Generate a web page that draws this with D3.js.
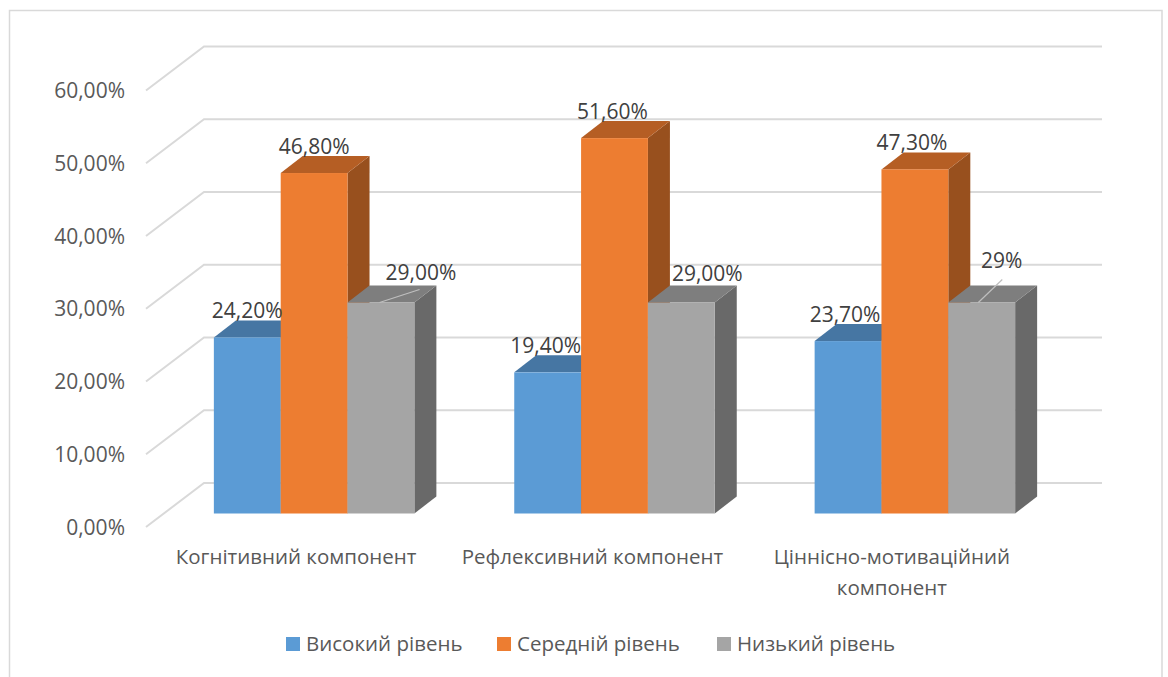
<!DOCTYPE html>
<html><head><meta charset="utf-8">
<script src="https://cdn.jsdelivr.net/npm/d3@7/dist/d3.min.js"></script>
<style>html,body{margin:0;padding:0;background:#fff}svg{display:block}text{font-family:"Open Sans",sans-serif}</style>
</head><body><svg id="c" width="1168" height="677"></svg>
<script>
const categories=[["Когнітивний компонент"],["Рефлексивний компонент"],["Ціннісно-мотиваційний","компонент"]];
const seriesNames=["Високий рівень","Середній рівень","Низький рівень"];
const high=[24.2,19.4,23.7];
const mid=[46.8,51.6,47.3];
const low=[29,29,29];
const highLabels=["24,20%","19,40%","23,70%"];
const midLabels=["46,80%","51,60%","47,30%"];
const lowLabels=["29,00%","29,00%","29%"];
const ticks=[0,10,20,30,40,50,60];
const tickLabels=["0,00%","10,00%","20,00%","30,00%","40,00%","50,00%","60,00%"];

const front=["#5B9BD5","#ED7D31","#A5A5A5"],top_=["#4676A3","#B55E24","#7E7E7E"],side=["#3E6A92","#98501E","#696969"];
const svg=d3.select("#c");
const DX=22,DY=17;            // depth of a bar
const WX=58,WY=44;            // depth of the floor
const y=d3.scaleLinear().domain([0,60]).range([527,90.5]);
const x0=d3.scaleBand().domain([0,1,2]).range([164,1065]).paddingInner(0.3325).paddingOuter(0.166);
const xs=d3.scaleBand().domain([0,1,2]).range([0,x0.bandwidth()]);
const barH=v=>y(0)-y(v), base=513.5;
const series=[high,mid,low];

svg.append("path").attr("d","M9.5,677V10.5H1162V677").attr("fill","none").attr("stroke","#D9D9D9").attr("stroke-width",1.5);

const grid=svg.append("g").attr("fill","none").attr("stroke","#D9D9D9").attr("stroke-width",2);
ticks.forEach(t=>{
  grid.append("path").attr("d",d3.line()([[146,y(t)],[146+WX,y(t)-WY],[1102,y(t)-WY]]));
});
svg.append("g").selectAll("text").data(ticks).join("text")
  .attr("x",125).attr("y",d=>y(d)+7.5).attr("text-anchor","end").attr("font-size",21).attr("fill","#595959")
  .text((d,i)=>tickLabels[i]);

const bars=svg.append("g");
[0,1,2].forEach(c=>{
  [0,1,2].forEach(s=>{
    const v=series[s][c],l=x0(c)+xs(s),r=l+xs.bandwidth(),t=base-barH(v);
    bars.append("path").attr("fill",side[s]).attr("d",d3.line()([[r,base],[r+DX,base-DY],[r+DX,t-DY],[r,t]]));
    bars.append("path").attr("fill",top_[s]).attr("d",d3.line()([[l,t],[l+DX,t-DY],[r+DX,t-DY],[r,t]]));
    bars.append("rect").attr("fill",front[s]).attr("x",l).attr("y",t).attr("width",r-l).attr("height",barH(v));
  });
});
// leader lines
[[0,32,-13,40],[2,30,-23,24]].forEach(([c,dx,dy,w])=>{
  const l=x0(c)+xs(2),t=base-barH(low[c]);
  svg.append("line").attr("x1",l+dx).attr("y1",t).attr("x2",l+dx+w).attr("y2",t+dy)
    .attr("stroke","#BFBFBF").attr("stroke-width",1.2);
});
const lab=svg.append("g").attr("font-size",21).attr("fill","#404040").attr("text-anchor","middle");
const lowShift=[[40,23],[26,22],[20,35]];
const colShift=[0,-2,-3];
[0,1,2].forEach(c=>{
  const w=xs.bandwidth()/2, cxH=x0(c)+xs(0)+w, cxM=x0(c)+xs(1)+w, cxL=x0(c)+xs(2)+w;
  lab.append("text").attr("x",cxH+colShift[c]).attr("y",base-barH(high[c])-19).text(highLabels[c]);
  lab.append("text").attr("x",cxM+colShift[c]).attr("y",base-barH(mid[c])-19).text(midLabels[c]);
  lab.append("text").attr("x",cxL+lowShift[c][0]).attr("y",base-barH(low[c])-lowShift[c][1]).text(lowLabels[c]);
});
const cat=svg.append("g").attr("font-size",20.5).attr("fill","#595959").attr("text-anchor","middle");
const catShift=[-18,-22,-23];
categories.forEach((lines,c)=>lines.forEach((t,i)=>{
  cat.append("text").attr("x",x0(c)+x0.bandwidth()/2+catShift[c]).attr("y",564+i*31).text(t);
}));
const legX=[286,497,717];
const leg=svg.append("g");
seriesNames.forEach((n,i)=>{
  leg.append("rect").attr("x",legX[i]).attr("y",637).attr("width",14).attr("height",14).attr("fill",front[i]);
  leg.append("text").attr("x",legX[i]+20).attr("y",651).attr("font-size",20.5).attr("fill","#595959").text(n);
});
</script></body></html>
